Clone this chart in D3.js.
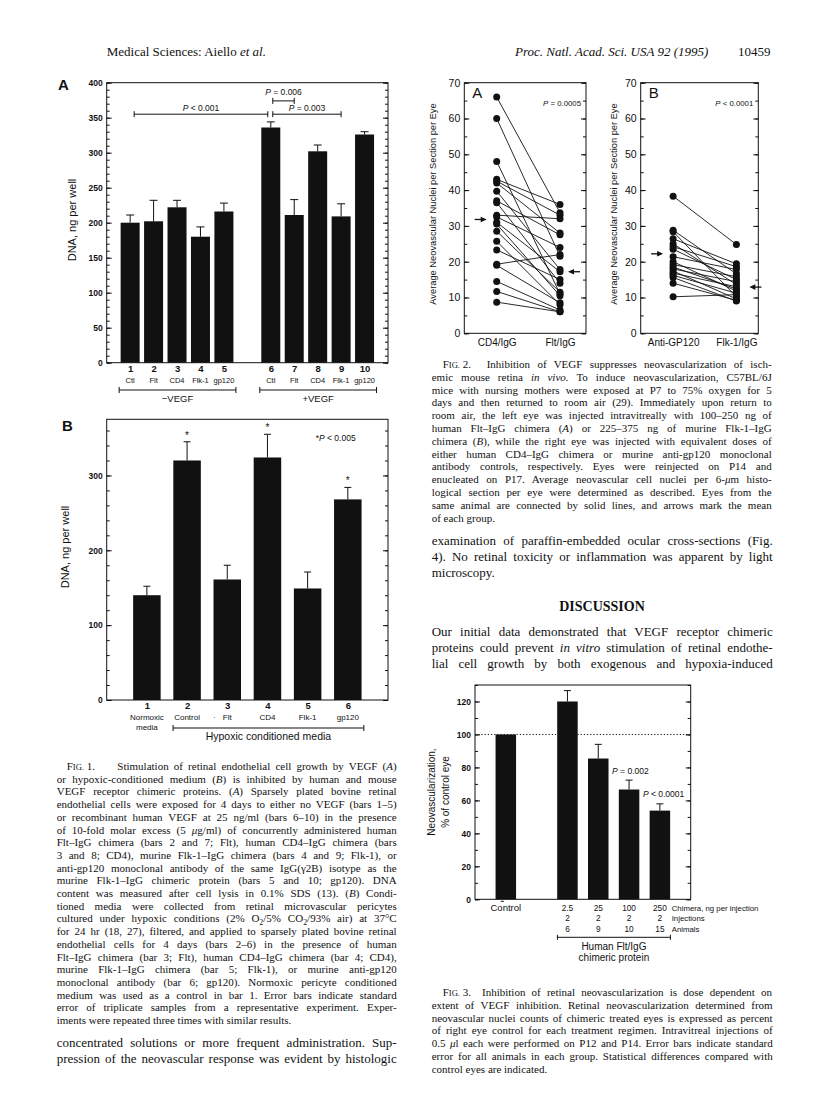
<!DOCTYPE html>
<html><head><meta charset="utf-8">
<script src="https://cdn.jsdelivr.net/npm/d3@7"></script>
<style>body{margin:0;background:#fff}svg{display:block}</style>
</head><body>
<svg id="page" width="816" height="1114"></svg>
<script>
// ---------------- DATA ----------------
// Fig 1A
const fig1aBars = ["1","2","3","4","5","6","7","8","9","10"];
const fig1aSlots = ["1","2","3","4","5","gap","6","7","8","9","10"];
const fig1aNames = ["Ctl","Flt","CD4","Flk-1","gp120","Ctl","Flt","CD4","Flk-1","gp120"];
const fig1aValues = [200,202,222,180,216,336,211,302,209,326];
const fig1aErrTop = [211,232,232,194,228,344,233,311,227,330];
const fig1aMajor = [0,50,100,150,200,250,300,350,400];
const fig1aMinor = d3.range(0,401,10);
const fig1aComparisons = [
  {from:"1", to:"6", level:355, label:"_P_ < 0.001", labelLevel:360},
  {from:"6", to:"7", level:374, label:"_P_ = 0.006", labelLevel:383},
  {from:"6", to:"9", level:355, label:"_P_ = 0.003", labelLevel:360}
];
const fig1aGroups = [{from:"1",to:"5",label:"−VEGF"},{from:"6",to:"10",label:"+VEGF"}];
// Fig 1B
const fig1bBars = ["1","2","3","4","5","6"];
const fig1bNames = ["Normoxic","Control","Flt","CD4","Flk-1","gp120"];
const fig1bValues = [140,320,161,324,149,268];
const fig1bErrTop = [152,345,180,355,171,284];
const fig1bStar = [false,true,false,true,false,true];
const fig1bMajor = [0,100,200,300];
const fig1bMinor = d3.range(0,375,20);
// Fig 2A
const fig2aGroups = ["CD4/IgG","Flt/IgG"];
const fig2aLeft  = [66,60,48,43,42.5,42,39.7,37,36.5,33,32.5,31,30.5,28.5,25.7,23.3,19.3,19,14.5,11.7,8.7];
const fig2aRight = [33.7,21.5,11,36,33,28,17.8,27.5,14,32,24,17.2,10.5,11.5,8,15,22,8.5,6.5,6,6];
const fig2aMeans = [31.8,17.2];
// Fig 2B
const fig2bGroups = ["Anti-GP120","Flk-1/IgG"];
const fig2bLeft  = [38.3,28.8,28.4,26.4,25,24.2,23.5,21.4,20,19.2,18.5,18,17.4,16.8,16.2,15.6,14,10.2];
const fig2bRight = [24.8,16.6,10.2,19.4,13.6,18.6,15,17.8,11.8,15.8,12.4,14.4,9.6,13,11.2,9,9.2,10.8];
const fig2bMeans = [22.2,12.9];
const fig2Major = d3.range(0,71,10);
const fig2Minor = d3.range(0,71,5);
// Fig 3
const fig3Slots = ["Control","gap","2.5","25","100","250"];
const fig3Bars = ["Control","2.5","25","100","250"];
const fig3Values = [100,120,85.4,66.6,53.8];
const fig3ErrTop = [null,126.6,94,72.3,57.9];
const fig3Injections = ["","2","2","2","2"];
const fig3Animals = ["","6","9","10","15"];
const fig3Major = d3.range(0,121,20);
const fig3Minor = d3.range(0,131,10);
const fig3Pvalues = [{bar:"100",label:"_P_ = 0.002"},{bar:"250",label:"_P_ < 0.0001"}];

// ---------------- TEXT ----------------
const fig1Caption = [
  "or hypoxic-conditioned medium (_B_) is inhibited by human and mouse",
  "VEGF receptor chimeric proteins. (_A_) Sparsely plated bovine retinal",
  "endothelial cells were exposed for 4 days to either no VEGF (bars 1–5)",
  "or recombinant human VEGF at 25 ng/ml (bars 6–10) in the presence",
  "of 10-fold molar excess (5 _μ_g/ml) of concurrently administered human",
  "Flt–IgG chimera (bars 2 and 7; Flt), human CD4–IgG chimera (bars",
  "3 and 8; CD4), murine Flk-1–IgG chimera (bars 4 and 9; Flk-1), or",
  "anti-gp120 monoclonal antibody of the same IgG(γ2B) isotype as the",
  "murine Flk-1–IgG chimeric protein (bars 5 and 10; gp120). DNA",
  "content was measured after cell lysis in 0.1% SDS (13). (_B_) Condi-",
  "tioned media were collected from retinal microvascular pericytes",
  "cultured under hypoxic conditions (2% O{2}/5% CO{2}/93% air) at 37°C",
  "for 24 hr (18, 27), filtered, and applied to sparsely plated bovine retinal",
  "endothelial cells for 4 days (bars 2–6) in the presence of human",
  "Flt–IgG chimera (bar 3; Flt), human CD4–IgG chimera (bar 4; CD4),",
  "murine Flk-1–IgG chimera (bar 5; Flk-1), or murine anti-gp120",
  "monoclonal antibody (bar 6; gp120). Normoxic pericyte conditioned",
  "medium was used as a control in bar 1. Error bars indicate standard",
  "error of triplicate samples from a representative experiment. Exper-",
  "iments were repeated three times with similar results."
];
const fig2Caption = [
  "emic mouse retina _in vivo._ To induce neovascularization, C57BL/6J",
  "mice with nursing mothers were exposed at P7 to 75% oxygen for 5",
  "days and then returned to room air (29). Immediately upon return to",
  "room air, the left eye was injected intravitreally with 100–250 ng of",
  "human Flt–IgG chimera (_A_) or 225–375 ng of murine Flk-1–IgG",
  "chimera (_B_), while the right eye was injected with equivalent doses of",
  "either human CD4–IgG chimera or murine anti-gp120 monoclonal",
  "antibody controls, respectively. Eyes were reinjected on P14 and",
  "enucleated on P17. Average neovascular cell nuclei per 6-_μ_m histo-",
  "logical section per eye were determined as described. Eyes from the",
  "same animal are connected by solid lines, and arrows mark the mean",
  "of each group."
];
const fig3Caption = [
  "extent of VEGF inhibition. Retinal neovascularization determined from",
  "neovascular nuclei counts of chimeric treated eyes is expressed as percent",
  "of right eye control for each treatment regimen. Intravitreal injections of",
  "0.5 _μ_l each were performed on P12 and P14. Error bars indicate standard",
  "error for all animals in each group. Statistical differences compared with",
  "control eyes are indicated."
];
const bodyRightTop = [
  "examination of paraffin-embedded ocular cross-sections (Fig.",
  "4). No retinal toxicity or inflammation was apparent by light",
  "microscopy."
];
const bodyRightDisc = [
  "Our initial data demonstrated that VEGF receptor chimeric",
  "proteins could prevent _in vitro_ stimulation of retinal endothe-",
  "lial cell growth by both exogenous and hypoxia-induced"
];
const bodyLeft = [
  "concentrated solutions or more frequent administration. Sup-",
  "pression of the neovascular response was evident by histologic"
];

// ---------------- HELPERS ----------------
const SANS = "'Liberation Sans', Arial, Helvetica, sans-serif";
const SERIF = "'Liberation Serif', 'Times New Roman', serif";
const INK = "#111";
const svg = d3.select("#page");
svg.append("rect").attr("width",816).attr("height",1114).attr("fill","#fff");

function rich(parent, str, x, y, o = {}) {
  const size = o.size || 11;
  const t = parent.append("text").attr("x", x).attr("y", y)
    .attr("font-family", o.family || SERIF).attr("font-size", size).attr("fill", INK);
  if (o.weight) t.attr("font-weight", o.weight);
  if (o.anchor) t.attr("text-anchor", o.anchor);
  if (o.italic) t.attr("font-style", "italic");
  if (o.transform) t.attr("transform", o.transform);
  const parts = str.split(/(_[^_]+_|\^[^\^]+\^|\{[^}]+\})/).filter(s => s.length);
  let shifted = false;
  parts.forEach(p => {
    let sp;
    if (p.length > 1 && p[0] === "_" && p[p.length-1] === "_") {
      sp = t.append("tspan").attr("font-style","italic").text(p.slice(1,-1));
    } else if (p[0] === "^") {
      const s = p.slice(1,-1);
      sp = t.append("tspan").text(s[0]);
      if (shifted) { sp.attr("dy", -2.5); shifted = false; }
      t.append("tspan").attr("font-size", size*0.78).text(s.slice(1));
      return;
    } else if (p[0] === "{") {
      sp = t.append("tspan").attr("font-size", size*0.72).attr("dy", 2.5).text(p.slice(1,-1));
      shifted = true; return;
    } else {
      sp = t.append("tspan").text(p);
    }
    if (shifted) { sp.attr("dy", -2.5); shifted = false; }
  });
  if (o.width) {
    const len = t.node().getComputedTextLength();
    const n = (t.text().match(/ /g) || []).length;
    if (len > o.width) t.attr("textLength", o.width).attr("lengthAdjust", "spacingAndGlyphs");
    else if (o.justify && n > 0) t.style("word-spacing", ((o.width - len) / n) + "px");
  }
  return t;
}

function paragraph(lines, x, y0, w, lh, o, lastJustify) {
  lines.forEach((l, i) => {
    const justify = i < lines.length - 1 || lastJustify;
    rich(svg, l, x, y0 + i*lh, Object.assign({}, o, {width: w, justify}));
  });
}

function yAxes(g, y, x0, x1, major, minor, fmt, font) {
  const L = g.append("g").attr("transform", `translate(${x0},0)`);
  L.call(d3.axisLeft(y).tickValues(minor).tickSize(-3).tickFormat(""));
  L.append("g").call(d3.axisLeft(y).tickValues(major).tickSize(-5).tickPadding(4).tickFormat(fmt));
  const R = g.append("g").attr("transform", `translate(${x1},0)`);
  R.call(d3.axisRight(y).tickValues(minor).tickSize(-3).tickFormat(""));
  R.append("g").call(d3.axisRight(y).tickValues(major).tickSize(-5).tickFormat(""));
  g.selectAll(".domain").remove();
  g.selectAll(".tick line").attr("stroke", INK);
  g.selectAll(".tick text").attr("font-family", SANS).attr("font-size", font.size)
    .attr("font-weight", font.weight || "normal").attr("fill", INK);
}

function frame(g, x0, x1, yTop, yBot) {
  g.append("rect").attr("x", x0).attr("y", yTop).attr("width", x1 - x0).attr("height", yBot - yTop)
    .attr("fill", "none").attr("stroke", INK).attr("stroke-width", 1);
}

function bracket(g, xa, xb, y, h) {
  g.append("line").attr("x1", xa).attr("x2", xb).attr("y1", y).attr("y2", y).attr("stroke", INK);
  [xa, xb].forEach(x => g.append("line").attr("x1", x).attr("x2", x).attr("y1", y - h/2).attr("y2", y + h/2).attr("stroke", INK));
}

function errBar(g, x, yTop, yErr, cap) {
  g.append("line").attr("x1", x).attr("x2", x).attr("y1", yTop).attr("y2", yErr).attr("stroke", INK);
  g.append("line").attr("x1", x - cap/2).attr("x2", x + cap/2).attr("y1", yErr).attr("y2", yErr).attr("stroke", INK);
}

function arrow(g, xTail, xTip, y) {
  const dir = Math.sign(xTip - xTail);
  g.append("line").attr("x1", xTail).attr("x2", xTip - dir*3).attr("y1", y).attr("y2", y).attr("stroke", INK).attr("stroke-width", 1.3);
  g.append("path").attr("d", `M${xTip},${y}L${xTip - dir*6},${y - 2.8}L${xTip - dir*6},${y + 2.8}Z`).attr("fill", INK);
}

// ---------------- HEADER ----------------
rich(svg, "Medical Sciences: Aiello _et al._", 106.7, 56, {size: 13});
rich(svg, "Proc. Natl. Acad. Sci. USA 92 (1995)", 515, 56, {size: 13, italic: true});
rich(svg, "10459", 738, 56, {size: 13});

// ---------------- FIG 1A ----------------
{
  const g = svg.append("g");
  const X0 = 106.7, X1 = 388, YT = 82.7, YB = 362.7;
  const x = d3.scalePoint().domain(fig1aSlots).range([X0, X1]).padding(1);
  const y = d3.scaleLinear().domain([0, 400]).range([YB, YT]);
  const bw = 19;
  fig1aBars.forEach((b, i) => {
    g.append("rect").attr("x", x(b) - bw/2).attr("y", y(fig1aValues[i])).attr("width", bw)
      .attr("height", y(0) - y(fig1aValues[i])).attr("fill", INK);
    errBar(g, x(b), y(fig1aValues[i]), y(fig1aErrTop[i]), 8);
  });
  yAxes(g, y, X0, X1, fig1aMajor, fig1aMinor, d3.format("d"), {size: 8.5, weight: "bold"});
  frame(g, X0, X1, YT, YB);
  fig1aComparisons.forEach(c => {
    const xa = x(c.from) + (c.from === "6" ? 2 : 4), xb = x(c.to) - (c.to === "6" ? 3 : 0);
    bracket(g, xa, xb, y(c.level), 6);
    rich(g, c.label, (xa + xb)/2, y(c.labelLevel) , {family: SANS, size: 8.5, anchor: "middle"});
  });
  // category labels
  const ax = g.append("g").attr("transform", `translate(0,${YB})`)
    .call(d3.axisBottom(x).tickValues(fig1aBars).tickSize(0).tickPadding(3));
  ax.select(".domain").remove();
  ax.selectAll("text").attr("font-family", SANS).attr("font-size", 9.5).attr("font-weight", "bold").attr("fill", INK);
  fig1aBars.forEach((b, i) => rich(g, fig1aNames[i], x(b), 382.5, {family: SANS, size: 7.5, anchor: "middle"}));
  fig1aGroups.forEach(gr => {
    const xa = x(gr.from) - 11, xb = x(gr.to) + 12;
    bracket(g, xa, xb, 390, 6);
    rich(g, gr.label, (xa + xb)/2, 402, {family: SANS, size: 9.5, anchor: "middle"});
  });
  rich(g, "A", 58, 90, {family: SANS, size: 15, weight: "bold"});
  rich(g, "DNA, ng per well", 0, 0, {family: SANS, size: 11, anchor: "middle", transform: "translate(75.5,220) rotate(-90)"});
}

// ---------------- FIG 1B ----------------
{
  const g = svg.append("g");
  const X0 = 106.7, X1 = 388, YT = 419.3, YB = 700;
  const x = d3.scalePoint().domain(fig1bBars).range([X0, X1]).padding(1);
  const y = d3.scaleLinear().domain([0, 375]).range([YB, YT]);
  const bw = 27.5;
  fig1bBars.forEach((b, i) => {
    g.append("rect").attr("x", x(b) - bw/2).attr("y", y(fig1bValues[i])).attr("width", bw)
      .attr("height", y(0) - y(fig1bValues[i])).attr("fill", INK);
    errBar(g, x(b), y(fig1bValues[i]), y(fig1bErrTop[i]), 7);
    if (fig1bStar[i]) rich(g, "*", x(b), y(fig1bErrTop[i]) - 3, {family: SANS, size: 10, anchor: "middle"});
  });
  yAxes(g, y, X0, X1, fig1bMajor, fig1bMinor, d3.format("d"), {size: 8.5, weight: "bold"});
  frame(g, X0, X1, YT, YB);
  rich(g, "*_P_ < 0.005", 315.7, 441, {family: SANS, size: 8.5});
  const ax = g.append("g").attr("transform", `translate(0,${YB})`)
    .call(d3.axisBottom(x).tickSize(0).tickPadding(2));
  ax.select(".domain").remove();
  ax.selectAll("text").attr("font-family", SANS).attr("font-size", 9.5).attr("font-weight", "bold").attr("fill", INK);
  fig1bBars.forEach((b, i) => rich(g, fig1bNames[i], x(b), 720, {family: SANS, size: 8, anchor: "middle"}));
  rich(g, "·", x("3") - 13, 720, {family: SANS, size: 8, anchor: "middle"});
  rich(g, "media", x("1"), 729.5, {family: SANS, size: 8, anchor: "middle"});
  const xa = x("2") - 14, xb = x("6") + 16;
  bracket(g, xa, xb, 728, 6);
  rich(g, "Hypoxic conditioned media", (xa + xb)/2, 739.5, {family: SANS, size: 10.5, anchor: "middle"});
  rich(g, "B", 62, 431, {family: SANS, size: 15, weight: "bold"});
  rich(g, "DNA, ng per well", 0, 0, {family: SANS, size: 11, anchor: "middle", transform: "translate(69,547) rotate(-90)"});
}

// ---------------- FIG 2 ----------------
function fig2Panel(X0, X1, groups, left, right, means, letter, ptext, ylabX, arrowR) {
  const g = svg.append("g");
  const YT = 82.7, YB = 333.3;
  const x = d3.scalePoint().domain(groups).range([X0 + 32.4, X0 + 95.7]);
  const y = d3.scaleLinear().domain([0, 70]).range([YB, YT]);
  yAxes(g, y, X0, X1, fig2Major, fig2Minor, d3.format("d"), {size: 10.5});
  frame(g, X0, X1, YT, YB);
  left.forEach((v, i) => g.append("line").attr("x1", x(groups[0])).attr("x2", x(groups[1]))
    .attr("y1", y(v)).attr("y2", y(right[i])).attr("stroke", INK).attr("stroke-width", 0.9));
  [left, right].forEach((arr, k) => arr.forEach(v => g.append("circle")
    .attr("cx", x(groups[k])).attr("cy", y(v)).attr("r", 3.5).attr("fill", INK)));
  arrow(g, x(groups[0]) - 22, x(groups[0]) - 10, y(means[0]));
  arrow(g, x(groups[1]) + arrowR + 12, x(groups[1]) + arrowR, y(means[1]));
  const ax = g.append("g").attr("transform", `translate(0,${YB})`)
    .call(d3.axisBottom(x).tickSize(0).tickPadding(6));
  ax.select(".domain").remove();
  ax.selectAll("text").attr("font-family", SANS).attr("font-size", 10).attr("fill", INK);
  rich(g, letter, X0 + 8, 97.5, {family: SANS, size: 15});
  rich(g, ptext, X1 - 5, 106, {family: SANS, size: 7.8, anchor: "end"});
  rich(g, "Average Neovascular Nuclei per Section per Eye", 0, 0,
    {family: SANS, size: 9.3, anchor: "middle", transform: `translate(${ylabX + 3.3},204) rotate(-90)`});
}
fig2Panel(464.3, 586, fig2aGroups, fig2aLeft, fig2aRight, fig2aMeans, "A", "_P_ = 0.0005", 433, 8);
fig2Panel(640.7, 758.3, fig2bGroups, fig2bLeft, fig2bRight, fig2bMeans, "B", "_P_ < 0.0001", 613.3, 13);

// ---------------- FIG 3 ----------------
{
  const g = svg.append("g");
  const X0 = 475, X1 = 690.7, YT = 685, YB = 899.3;
  const x = d3.scalePoint().domain(fig3Slots).range([X0, X1]).padding(1);
  const y = d3.scaleLinear().domain([0, 130]).range([YB, YT]);
  g.append("line").attr("x1", X0).attr("x2", X1).attr("y1", y(100)).attr("y2", y(100))
    .attr("stroke", INK).attr("stroke-dasharray", "1.2,2");
  const bw = 20.5;
  fig3Bars.forEach((b, i) => {
    g.append("rect").attr("x", x(b) - bw/2).attr("y", y(fig3Values[i])).attr("width", bw)
      .attr("height", y(0) - y(fig3Values[i])).attr("fill", INK);
    if (fig3ErrTop[i] != null) errBar(g, x(b), y(fig3Values[i]), y(fig3ErrTop[i]), 7);
  });
  yAxes(g, y, X0, X1, fig3Major, fig3Minor, d3.format("d"), {size: 8.5, weight: "bold"});
  frame(g, X0, X1, YT, YB);
  fig3Pvalues.forEach(p => {
    const i = fig3Bars.indexOf(p.bar);
    rich(g, p.label, x(p.bar) - 17, y(fig3ErrTop[i]) - 6.5, {family: SANS, size: 8.5});
  });
  g.append("line").attr("x1", x("Control") - 5).attr("x2", x("Control") - 2).attr("y1", YB + 2).attr("y2", YB + 2).attr("stroke", INK);
  fig3Bars.forEach((b, i) => {
    rich(g, b, x(b), 911, {family: SANS, size: b === "Control" ? 9.5 : 8.3, anchor: "middle"});
    if (fig3Injections[i]) rich(g, fig3Injections[i], x(b), 921, {family: SANS, size: 8.3, anchor: "middle"});
    if (fig3Animals[i]) rich(g, fig3Animals[i], x(b), 931.5, {family: SANS, size: 8.3, anchor: "middle"});
  });
  rich(g, "Chimera, ng per injection", 671.7, 911, {family: SANS, size: 7.8});
  rich(g, "Injections", 671.7, 921, {family: SANS, size: 7.8});
  rich(g, "Animals", 671.7, 931.5, {family: SANS, size: 7.8});
  const xa = x("2.5") - 10, xb = x("250") + 10.5;
  bracket(g, xa, xb, 937.3, 5);
  rich(g, "Human Flt/IgG", (xa + xb)/2, 950, {family: SANS, size: 10, anchor: "middle"});
  rich(g, "chimeric protein", (xa + xb)/2, 961, {family: SANS, size: 10, anchor: "middle"});
  rich(g, "Neovascularization,", 0, 0, {family: SANS, size: 10, anchor: "middle", transform: "translate(435,792) rotate(-90)"});
  rich(g, "% of control eye", 0, 0, {family: SANS, size: 10, anchor: "middle", transform: "translate(448.5,792) rotate(-90)"});
}

// ---------------- CAPTIONS & BODY ----------------
// Fig 1 caption
rich(svg, "^FIG.^ 1.", 66.7, 770, {size: 11});
rich(svg, "Stimulation of retinal endothelial cell growth by VEGF (_A_)", 117.3, 770, {size: 11, width: 279.4, justify: true});
paragraph(fig1Caption, 56.7, 782.7, 340, 12.7, {size: 11}, false);
paragraph(bodyLeft, 56.7, 1047, 340, 16, {size: 13}, true);
// Fig 2 caption
rich(svg, "^FIG.^ 2.", 442.7, 368, {size: 11});
rich(svg, "Inhibition of VEGF suppresses neovascularization of isch-", 486.7, 368, {size: 11, width: 285, justify: true});
paragraph(fig2Caption, 431.7, 380.8, 340, 12.8, {size: 11}, false);
// body right
paragraph(bodyRightTop, 431.7, 545, 341, 16, {size: 13}, false);
rich(svg, "DISCUSSION", 602, 611, {size: 14, weight: "bold", anchor: "middle"});
paragraph(bodyRightDisc, 431.7, 636, 341, 16, {size: 13}, true);
// Fig 3 caption
rich(svg, "^FIG.^ 3.", 442.7, 996, {size: 11});
rich(svg, "Inhibition of retinal neovascularization is dose dependent on", 482, 996, {size: 11, width: 290, justify: true});
paragraph(fig3Caption, 431.7, 1008.8, 341, 12.8, {size: 11}, false);
</script>
</body></html>
